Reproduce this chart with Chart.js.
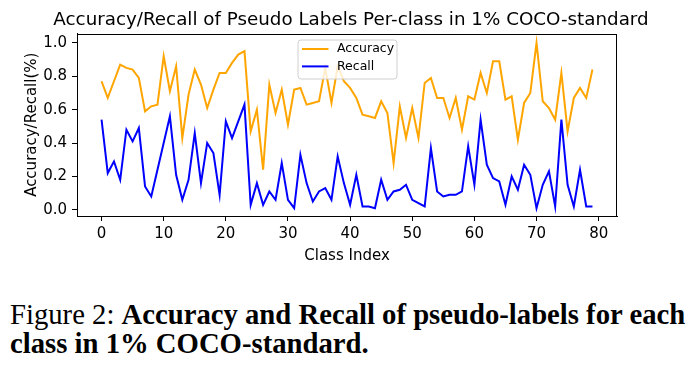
<!DOCTYPE html>
<html>
<head>
<meta charset="utf-8">
<script src="https://cdn.jsdelivr.net/npm/chart.js@4.4.1/dist/chart.umd.min.js"></script>
<style>
  body { margin: 0; background: #fff; width: 699px; height: 367px; overflow: hidden; position: relative; }
  #wrap { position: absolute; left: 0; top: 0; width: 699px; height: 280px; }
  #caption { position: absolute; left: 10px; top: 300px; width: 690px; font-family: "Liberation Serif", serif; font-size: 28.7px; line-height: 29px; color: #000; white-space: nowrap; }
  #caption b { font-weight: bold; }
</style>
</head>
<body>
<div id="wrap"><canvas id="chart" width="699" height="280"></canvas></div>
<div id="caption">Figure 2: <b>Accuracy and Recall of pseudo-labels for each</b><br><b>class in 1% COCO-standard.</b></div>
<script>
const classIndex = [
  0, 1, 2, 3, 4, 5, 6, 7, 8, 9,
  10, 11, 12, 13, 14, 15, 16, 17, 18, 19,
  20, 21, 22, 23, 24, 25, 26, 27, 28, 29,
  30, 31, 32, 33, 34, 35, 36, 37, 38, 39,
  40, 41, 42, 43, 44, 45, 46, 47, 48, 49,
  50, 51, 52, 53, 54, 55, 56, 57, 58, 59,
  60, 61, 62, 63, 64, 65, 66, 67, 68, 69,
  70, 71, 72, 73, 74, 75, 76, 77, 78, 79
];
const accuracy = [
  0.77, 0.67, 0.77, 0.87, 0.85, 0.84, 0.79, 0.59, 0.62, 0.63,
  0.92, 0.71, 0.86, 0.43, 0.69, 0.84, 0.75, 0.61, 0.72, 0.82,
  0.82, 0.88, 0.93, 0.95, 0.47, 0.60, 0.24, 0.75, 0.58, 0.72,
  0.51, 0.72, 0.73, 0.63, 0.64, 0.65, 0.85, 0.64, 0.86, 0.77,
  0.73, 0.67, 0.57, 0.56, 0.55, 0.65, 0.58, 0.28, 0.62, 0.43,
  0.61, 0.43, 0.76, 0.79, 0.67, 0.67, 0.55, 0.67, 0.48, 0.68,
  0.66, 0.82, 0.70, 0.89, 0.89, 0.66, 0.68, 0.42, 0.64, 0.70,
  1.00, 0.65, 0.61, 0.54, 0.82, 0.47, 0.67, 0.73, 0.67, 0.84
];
const recall = [
  0.54, 0.22, 0.29, 0.18, 0.48, 0.41, 0.49, 0.14, 0.08, 0.24,
  0.40, 0.56, 0.21, 0.06, 0.18, 0.46, 0.16, 0.40, 0.34, 0.09,
  0.53, 0.43, 0.53, 0.63, 0.03, 0.16, 0.03, 0.11, 0.06, 0.28,
  0.06, 0.01, 0.33, 0.16, 0.05, 0.11, 0.13, 0.06, 0.32, 0.16,
  0.03, 0.21, 0.02, 0.02, 0.01, 0.18, 0.06, 0.11, 0.12, 0.15,
  0.06, 0.04, 0.02, 0.37, 0.11, 0.08, 0.09, 0.09, 0.11, 0.38,
  0.15, 0.54, 0.27, 0.19, 0.17, 0.03, 0.20, 0.12, 0.27, 0.21,
  0.01, 0.15, 0.23, 0.02, 0.54, 0.15, 0.02, 0.24, 0.02, 0.02
];
const xTicks = [0, 10, 20, 30, 40, 50, 60, 70, 80];
const yTicks = [0.0, 0.2, 0.4, 0.6, 0.8, 1.0];
const titleText = 'Accuracy/Recall of Pseudo Labels Per-class in 1% COCO-standard';

const font = 'DejaVu Sans';

// title over the middle of the plot, plus a black frame round the plot area
const framePlugin = {
  id: 'frame',
  afterDraw(chart) {
    const { ctx, chartArea: a } = chart;
    ctx.save();
    ctx.strokeStyle = '#000';
    ctx.lineWidth = 1;
    ctx.strokeRect(Math.round(a.left) + 0.5, Math.round(a.top) + 0.5,
      Math.round(a.right - a.left) - 1, Math.round(a.bottom - a.top) - 1);
    ctx.fillStyle = '#000';
    ctx.font = '18.3px ' + font;
    ctx.textAlign = 'center';
    ctx.textBaseline = 'alphabetic';
    ctx.fillText(titleText, (a.left + a.right) / 2 + 4, 25);
    ctx.restore();
  }
};

// legend drawn inside the plot, upper center
const innerLegend = {
  id: 'innerLegend',
  afterDraw(chart) {
    const { ctx, chartArea: a } = chart;
    const w = 99, h = 39;
    const x = (a.left + a.right) / 2 - w / 2;
    const y = a.top + 6;
    ctx.save();
    ctx.fillStyle = 'rgba(255,255,255,0.8)';
    ctx.strokeStyle = '#d0d0d0';
    ctx.lineWidth = 1;
    ctx.beginPath();
    ctx.roundRect(x + 0.5, y + 0.5, w, h, 3);
    ctx.fill();
    ctx.stroke();
    ctx.font = '12.5px ' + font;
    ctx.textBaseline = 'middle';
    chart.data.datasets.forEach((ds, i) => {
      const cy = y + 9.5 + i * 17.4;
      ctx.strokeStyle = ds.borderColor;
      ctx.lineWidth = 2;
      ctx.beginPath();
      ctx.moveTo(x + 4.5, cy);
      ctx.lineTo(x + 31, cy);
      ctx.stroke();
      ctx.fillStyle = '#000';
      ctx.fillText(ds.label, x + 39.5, cy);
    });
    ctx.restore();
  }
};

new Chart(document.getElementById('chart'), {
  type: 'line',
  data: {
    datasets: [
      {
        label: 'Accuracy',
        data: classIndex.map((c, i) => ({ x: c, y: accuracy[i] })),
        borderColor: '#ffa500',
        borderWidth: 2,
        pointRadius: 0,
        tension: 0,
        fill: false
      },
      {
        label: 'Recall',
        data: classIndex.map((c, i) => ({ x: c, y: recall[i] })),
        borderColor: '#0000ff',
        borderWidth: 2,
        pointRadius: 0,
        tension: 0,
        fill: false
      }
    ]
  },
  options: {
    responsive: false,
    animation: false,
    layout: { padding: { left: 0, right: 82, top: 33.5, bottom: 0 } },
    plugins: {
      legend: { display: false },
      tooltip: { enabled: false },
      title: { display: false }
    },
    scales: {
      x: {
        type: 'linear',
        min: -3.95,
        max: 82.95,
        afterBuildTicks: s => { s.ticks = xTicks.map(v => ({ value: v })); },
        afterFit: s => { s.height = 64; },
        grid: { drawOnChartArea: false, drawTicks: true, tickLength: 5, color: '#000' },
        border: { display: true, color: '#000' },
        ticks: { color: '#000', font: { family: font, size: 15 }, padding: 4, maxRotation: 0, autoSkip: false },
        title: { display: true, text: 'Class Index', color: '#000', font: { family: font, size: 15 }, padding: { top: 2, bottom: 15 } }
      },
      y: {
        min: -0.037,
        max: 1.056,
        afterBuildTicks: s => { s.ticks = yTicks.map(v => ({ value: v })); },
        afterFit: s => { s.width = 77; },
        grid: { drawOnChartArea: false, drawTicks: true, tickLength: 5, color: '#000' },
        border: { display: true, color: '#000' },
        ticks: { color: '#000', font: { family: font, size: 15 }, padding: 5, callback: v => v.toFixed(1) },
        title: { display: true, text: 'Accuracy/Recall(%)', color: '#000', font: { family: font, size: 15 }, padding: { top: 23, bottom: 0 } }
      }
    }
  },
  plugins: [framePlugin, innerLegend]
});
</script>
</body>
</html>
